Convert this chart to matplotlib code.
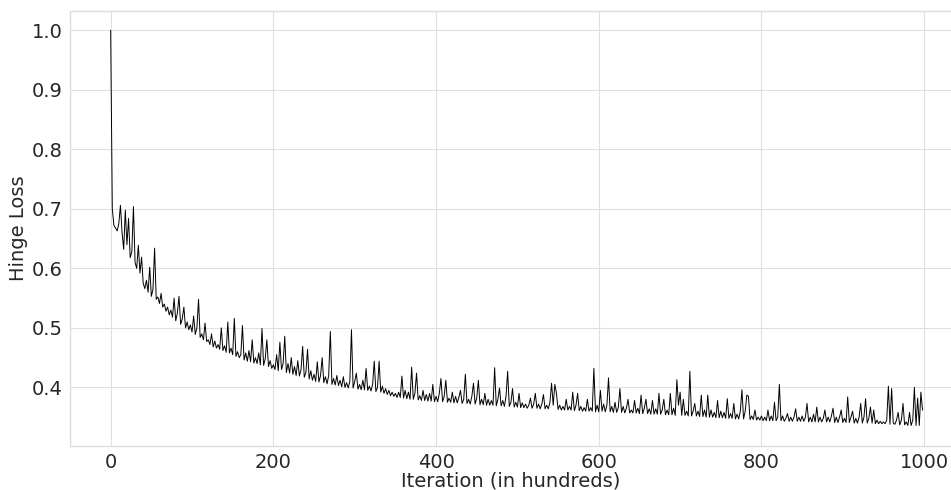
import numpy as np
import matplotlib
matplotlib.use("Agg")
import matplotlib.pyplot as plt

# hinge loss read every 2 iterations (x axis is in hundreds)
step = 2
loss = [
    1.000, 0.700, 0.672, 0.668, 0.663, 0.675, 0.706, 0.660, 0.632, 0.698,
    0.640, 0.684, 0.618, 0.628, 0.704, 0.610, 0.600, 0.639, 0.592, 0.619,
    0.575, 0.566, 0.580, 0.560, 0.602, 0.553, 0.565, 0.634, 0.548, 0.552,
    0.541, 0.558, 0.535, 0.540, 0.528, 0.535, 0.522, 0.530, 0.518, 0.550,
    0.512, 0.525, 0.553, 0.506, 0.515, 0.535, 0.500, 0.510, 0.497, 0.505,
    0.493, 0.520, 0.489, 0.500, 0.548, 0.484, 0.490, 0.480, 0.508, 0.477,
    0.480, 0.472, 0.490, 0.468, 0.478, 0.466, 0.472, 0.464, 0.500, 0.462,
    0.470, 0.459, 0.510, 0.458, 0.466, 0.455, 0.516, 0.452, 0.460, 0.450,
    0.455, 0.504, 0.446, 0.458, 0.444, 0.462, 0.443, 0.480, 0.441, 0.450,
    0.440, 0.458, 0.438, 0.499, 0.437, 0.448, 0.480, 0.435, 0.445, 0.432,
    0.438, 0.430, 0.455, 0.428, 0.476, 0.430, 0.440, 0.486, 0.425, 0.440,
    0.424, 0.450, 0.422, 0.435, 0.420, 0.445, 0.419, 0.430, 0.469, 0.417,
    0.425, 0.464, 0.414, 0.428, 0.412, 0.422, 0.410, 0.443, 0.409, 0.420,
    0.450, 0.408, 0.418, 0.406, 0.420, 0.494, 0.405, 0.415, 0.404, 0.420,
    0.403, 0.412, 0.401, 0.418, 0.400, 0.408, 0.399, 0.410, 0.497, 0.399,
    0.410, 0.424, 0.397, 0.405, 0.396, 0.412, 0.396, 0.432, 0.395, 0.402,
    0.394, 0.405, 0.444, 0.393, 0.400, 0.444, 0.392, 0.402, 0.390, 0.398,
    0.388, 0.395, 0.386, 0.392, 0.385, 0.390, 0.383, 0.392, 0.383, 0.419,
    0.382, 0.395, 0.381, 0.392, 0.380, 0.434, 0.380, 0.390, 0.424, 0.379,
    0.386, 0.378, 0.395, 0.378, 0.388, 0.377, 0.390, 0.377, 0.405, 0.376,
    0.385, 0.376, 0.390, 0.415, 0.376, 0.385, 0.412, 0.375, 0.382, 0.375,
    0.392, 0.374, 0.385, 0.374, 0.383, 0.395, 0.373, 0.380, 0.422, 0.373,
    0.380, 0.372, 0.385, 0.407, 0.372, 0.382, 0.412, 0.371, 0.380, 0.371,
    0.390, 0.370, 0.380, 0.370, 0.378, 0.370, 0.433, 0.369, 0.380, 0.399,
    0.369, 0.378, 0.368, 0.385, 0.427, 0.368, 0.375, 0.398, 0.367, 0.375,
    0.367, 0.390, 0.366, 0.374, 0.366, 0.372, 0.365, 0.370, 0.382, 0.365,
    0.372, 0.390, 0.365, 0.372, 0.364, 0.372, 0.388, 0.364, 0.370, 0.364,
    0.375, 0.407, 0.370, 0.405, 0.390, 0.363, 0.370, 0.362, 0.368, 0.362,
    0.380, 0.362, 0.368, 0.362, 0.392, 0.361, 0.370, 0.390, 0.361, 0.368,
    0.360, 0.366, 0.360, 0.380, 0.360, 0.366, 0.360, 0.432, 0.359, 0.370,
    0.359, 0.395, 0.360, 0.372, 0.359, 0.370, 0.416, 0.359, 0.368, 0.358,
    0.375, 0.358, 0.366, 0.398, 0.358, 0.368, 0.357, 0.365, 0.380, 0.357,
    0.362, 0.357, 0.378, 0.357, 0.365, 0.356, 0.387, 0.356, 0.365, 0.380,
    0.356, 0.364, 0.355, 0.378, 0.355, 0.364, 0.355, 0.390, 0.355, 0.362,
    0.380, 0.354, 0.362, 0.354, 0.390, 0.354, 0.365, 0.353, 0.413, 0.370,
    0.392, 0.353, 0.380, 0.353, 0.360, 0.352, 0.427, 0.352, 0.360, 0.373,
    0.352, 0.360, 0.351, 0.387, 0.351, 0.362, 0.350, 0.387, 0.350, 0.362,
    0.350, 0.358, 0.349, 0.378, 0.349, 0.360, 0.349, 0.358, 0.348, 0.381,
    0.348, 0.356, 0.348, 0.373, 0.347, 0.355, 0.347, 0.360, 0.396, 0.347,
    0.360, 0.387, 0.385, 0.346, 0.352, 0.346, 0.362, 0.345, 0.350, 0.345,
    0.352, 0.344, 0.350, 0.344, 0.362, 0.344, 0.352, 0.344, 0.375, 0.344,
    0.350, 0.405, 0.344, 0.352, 0.343, 0.348, 0.356, 0.343, 0.350, 0.343,
    0.350, 0.364, 0.343, 0.350, 0.343, 0.352, 0.343, 0.350, 0.373, 0.342,
    0.350, 0.342, 0.355, 0.342, 0.367, 0.342, 0.350, 0.342, 0.348, 0.362,
    0.342, 0.350, 0.342, 0.352, 0.365, 0.341, 0.350, 0.341, 0.350, 0.362,
    0.341, 0.348, 0.341, 0.384, 0.341, 0.350, 0.360, 0.340, 0.348, 0.340,
    0.350, 0.373, 0.340, 0.350, 0.381, 0.340, 0.348, 0.367, 0.340, 0.362,
    0.339, 0.345, 0.339, 0.343, 0.339, 0.342, 0.339, 0.345, 0.402, 0.338,
    0.398, 0.340, 0.338, 0.345, 0.358, 0.337, 0.345, 0.373, 0.337, 0.342,
    0.336, 0.358, 0.336, 0.345, 0.400, 0.336, 0.382, 0.336, 0.392, 0.362,
]
iterations = np.arange(len(loss)) * step

fig = plt.figure(figsize=(9.51, 4.90), dpi=100)
ax = fig.add_axes([0.0736, 0.0904, 0.9264, 0.8876])

ax.plot(iterations, loss, color="black", linewidth=0.7)

ax.set_xlim(-50, 1033)
ax.set_ylim(0.302, 1.033)
ax.set_xticks([0, 200, 400, 600, 800, 1000])
ax.set_yticks([0.4, 0.5, 0.6, 0.7, 0.8, 0.9, 1.0])

ax.grid(True, color="#e0e0e0", linewidth=0.8)
ax.set_axisbelow(True)
for side in ["left", "top", "bottom"]:
    ax.spines[side].set_color("#dddddd")
    ax.spines[side].set_linewidth(1.0)
ax.spines["right"].set_visible(False)
ax.tick_params(axis="both", length=0, labelsize=14, colors="#262626")
ax.tick_params(axis="y", pad=5)
ax.tick_params(axis="x", pad=5)

ax.set_xlabel("Iteration (in hundreds)", fontsize=14, color="#262626", labelpad=0)
ax.set_ylabel("Hinge Loss", fontsize=14, color="#262626", labelpad=3)

fig.savefig("out.png", dpi=100)
